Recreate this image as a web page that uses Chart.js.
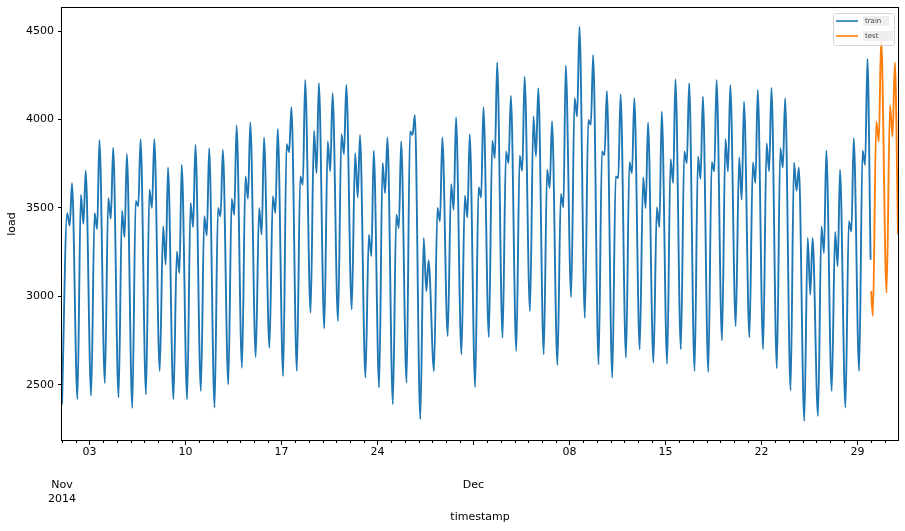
<!DOCTYPE html>
<html>
<head>
<meta charset="utf-8">
<script src="https://cdn.jsdelivr.net/npm/chart.js@4.4.1/dist/chart.umd.min.js"></script>
<style>
  html, body { margin: 0; padding: 0; background: #fff; }
  #wrap { width: 905px; height: 531px; }
</style>
</head>
<body>
<div id="wrap"><canvas id="c" width="905" height="531"></canvas></div>
<script>
// ── Data (hourly load, Nov 1 – Dec 31 2014) ────────────────────────────────
// Days are counted from Nov 1 00:00. Each day keeps four readings:
// night low, morning shoulder, midday dip and evening peak.

const HOUR_NIGHT = 3;
const HOUR_MORNING = 9;
const HOUR_MIDDAY = 13.5;
const HOUR_EVENING = 17.5;

// train: days 0..58 (Nov 1 – Dec 29)
const trainNight = [
  2390, 2420, 2440, 2510, 2430, 2370, 2447, 2579, 2419, 2419,
  2466, 2372, 2503, 2597, 2658, 2710, 2550, 2579, 2908, 2819,
  2861, 2927, 2541, 2485, 2391, 2513, 2306, 2579, 2776, 2673,
  2488, 2770, 2767, 2692, 2917, 2673, 2613, 2996, 2879, 2616,
  2541, 2654, 2701, 2626, 2620, 2701, 2579, 2573, 2752, 2832,
  2770, 2701, 2594, 2470, 2297, 2325, 2466, 2372, 2579
];
const trainMorning = [
  3470, 3575, 3470, 3555, 3485, 3540, 3603, 3396, 3255, 3528,
  3453, 3500, 3551, 3678, 3500, 3566, 3861, 3678, 3936, 3876,
  3917, 3810, 3349, 3754, 3462, 3932, 3331, 3500, 3635, 3569,
  3618, 3880, 3819, 3795, 4017, 3716, 3579, 4120, 3998, 3819,
  3678, 3759, 3673, 3504, 3776, 3819, 3791, 3759, 3889, 3786,
  3757, 3866, 3838, 3757, 3331, 3396, 3364, 3425, 3823
];
const trainMidday = [
  3400, 3410, 3380, 3440, 3335, 3510, 3500, 3180, 3133, 3391,
  3344, 3453, 3462, 3552, 3350, 3472, 3816, 3631, 3697, 3707,
  3804, 3560, 3227, 3584, 3387, 3913, 3030, 3425, 3490, 3447,
  3560, 3782, 3754, 3710, 3791, 3613, 3504, 4017, 3970, 3800,
  3669, 3697, 3500, 3391, 3641, 3754, 3665, 3707, 3707, 3547,
  3641, 3707, 3729, 3598, 3011, 3246, 3171, 3368, 3744
];
const trainEvening = [
  3640, 3710, 3885, 3840, 3805, 3889, 3889, 3729, 3744, 3857,
  3838, 3829, 3966, 3983, 3898, 3947, 4069, 4224, 4205, 4148,
  4195, 3913, 3823, 3898, 3876, 4026, 3203, 3898, 4011, 3917,
  4069, 4323, 4135, 4242, 4177, 3989, 4304, 4524, 4365, 4162,
  4143, 4120, 3983, 4045, 4227, 4205, 4130, 4224, 4195, 4101,
  4167, 4180, 4120, 3729, 3331, 3823, 3716, 3895, 4342
];
const trainLast = 3208;   // Dec 29 23:00

// test: days 59..60 (Dec 30 – Dec 31)
const testFirst = 3030;   // Dec 30 00:00
const testNight = [2890, 3020];
const testMorning = [3989, 4079];
const testMidday = [3876, 3904];
const testEvening = [4460, 4323];
const testLast = 3350;    // Dec 31 23:00

const yTicks = [2500, 3000, 3500, 4000, 4500];
const weekTicks = [2, 9, 16, 23, 30, 37, 44, 51, 58];
const weekLabels = ["03", "10", "17", "24", "", "08", "15", "22", "29"];
const monthTicks = [0, 30];
const monthLabels = [["Nov", "2014"], ["Dec"]];

const LAST_DAY = 60 + 23 / 24;

// ── Build point lists ──────────────────────────────────────────────────────

function dayPoints(firstDay, night, morning, midday, evening, skipFirstNight) {
  const pts = [];
  for (let i = 0; i < night.length; i++) {
    const d = firstDay + i;
    // the series opens at its first night low, so that one sits at 00:00
    const nh = (skipFirstNight && i === 0) ? 0 : HOUR_NIGHT;
    pts.push({ x: d + nh / 24, y: night[i] });
    pts.push({ x: d + HOUR_MORNING / 24, y: morning[i] });
    pts.push({ x: d + HOUR_MIDDAY / 24, y: midday[i] });
    pts.push({ x: d + HOUR_EVENING / 24, y: evening[i] });
  }
  return pts;
}

const trainPts = dayPoints(0, trainNight, trainMorning, trainMidday, trainEvening, true);
trainPts.push({ x: 58 + 23 / 24, y: trainLast });

const testPts = [{ x: 59, y: testFirst }]
  .concat(dayPoints(59, testNight, testMorning, testMidday, testEvening, false));
testPts.push({ x: LAST_DAY, y: testLast });

// ── Plugins ────────────────────────────────────────────────────────────────

const FONT = "DejaVu Sans";

// frame round the plot + short daily ticks
const frame = {
  id: "frame",
  afterDraw(chart) {
    const { ctx, chartArea: a } = chart;
    const xs = chart.scales.x;
    ctx.save();
    ctx.strokeStyle = "#000";
    ctx.lineWidth = 1;
    ctx.beginPath();
    for (let d = 0; d <= 60; d++) {
      if (weekTicks.includes(d)) continue;
      const px = Math.round(xs.getPixelForValue(d)) + 0.5;
      ctx.moveTo(px, a.bottom);
      ctx.lineTo(px, a.bottom + 3);
    }
    ctx.stroke();
    ctx.strokeRect(Math.round(a.left) - 0.5, Math.round(a.top) - 0.5,
      Math.round(a.right - a.left) + 1, Math.round(a.bottom - a.top) + 1);
    ctx.restore();
  }
};

const legendBox = {
  id: "legendBox",
  afterDraw(chart) {
    const { ctx, chartArea: a } = chart;
    const w = 61, h = 32;
    const x0 = a.right - 4 - w, y0 = a.top + 5;
    ctx.save();
    ctx.beginPath();
    ctx.roundRect(x0 + 0.5, y0 + 0.5, w, h, 2);
    ctx.fillStyle = "rgba(255,255,255,0.8)";
    ctx.fill();
    ctx.strokeStyle = "#d6d6d6";
    ctx.lineWidth = 1;
    ctx.stroke();
    ctx.font = `7px "${FONT}"`;
    ctx.textBaseline = "middle";
    chart.data.datasets.forEach((ds, i) => {
      const y = y0 + 8 + i * 15;
      ctx.strokeStyle = ds.borderColor;
      ctx.lineWidth = 1.6;
      ctx.beginPath();
      ctx.moveTo(x0 + 3, y);
      ctx.lineTo(x0 + 25, y);
      ctx.stroke();
      ctx.fillStyle = "#efefef";
      ctx.fillRect(x0 + 30, y - 5, i === 0 ? 26 : 30, 10);
      ctx.fillStyle = "#444";
      ctx.fillText(ds.label, x0 + 32, y);
    });
    ctx.restore();
  }
};

// ── Chart ──────────────────────────────────────────────────────────────────

const tickFont = { family: FONT, size: 11, lineHeight: 1.27 };

new Chart(document.getElementById("c"), {
  type: "line",
  data: {
    datasets: [
      { label: "train", data: trainPts, borderColor: "#1f77b4", borderWidth: 1.9,
        pointRadius: 0, cubicInterpolationMode: "monotone", fill: false },
      { label: "test", data: testPts, borderColor: "#ff7f0e", borderWidth: 1.9,
        pointRadius: 0, cubicInterpolationMode: "monotone", fill: false }
    ]
  },
  options: {
    responsive: false,
    animation: false,
    layout: { padding: { top: 8, right: 7, left: 0, bottom: 0 } },
    plugins: { legend: { display: false }, tooltip: { enabled: false } },
    scales: {
      x: {
        type: "linear", position: "bottom", weight: 0,
        min: 0, max: LAST_DAY,
        afterBuildTicks: s => { s.ticks = weekTicks.map(v => ({ value: v })); },
        afterFit: s => { s.height = 38; },
        ticks: {
          color: "#000", font: tickFont, padding: 0, maxRotation: 0, autoSkip: false,
          callback: v => weekLabels[weekTicks.indexOf(v)] ?? ""
        },
        grid: { drawOnChartArea: false, tickLength: 5, tickColor: "#000", tickWidth: 1 },
        border: { display: false }
      },
      x2: {
        type: "linear", position: "bottom", weight: 1,
        min: 0, max: LAST_DAY,
        afterBuildTicks: s => { s.ticks = monthTicks.map(v => ({ value: v })); },
        afterFit: s => { s.height = 53; },
        ticks: {
          color: "#000", font: tickFont, padding: 0, maxRotation: 0, autoSkip: false,
          callback: v => monthLabels[monthTicks.indexOf(v)] ?? ""
        },
        grid: { display: false, drawTicks: false },
        border: { display: false },
        title: { display: true, text: "timestamp", color: "#000",
          font: { family: FONT, size: 11 }, padding: { top: 0, bottom: 7 } }
      },
      y: {
        min: 2189, max: 4630,
        afterBuildTicks: s => { s.ticks = yTicks.map(v => ({ value: v })); },
        afterFit: s => { s.width = 62; s.paddingTop = 0; s.paddingBottom = 0; },
        ticks: { color: "#000", font: { family: FONT, size: 11 }, padding: 4,
          callback: v => String(v) },
        grid: { drawOnChartArea: false, tickLength: 4, tickColor: "#000", tickWidth: 1 },
        border: { display: false },
        title: { display: true, text: "load", color: "#000",
          font: { family: FONT, size: 11 }, padding: { top: 6, bottom: 0 } }
      }
    }
  },
  plugins: [frame, legendBox]
});
</script>
</body>
</html>
